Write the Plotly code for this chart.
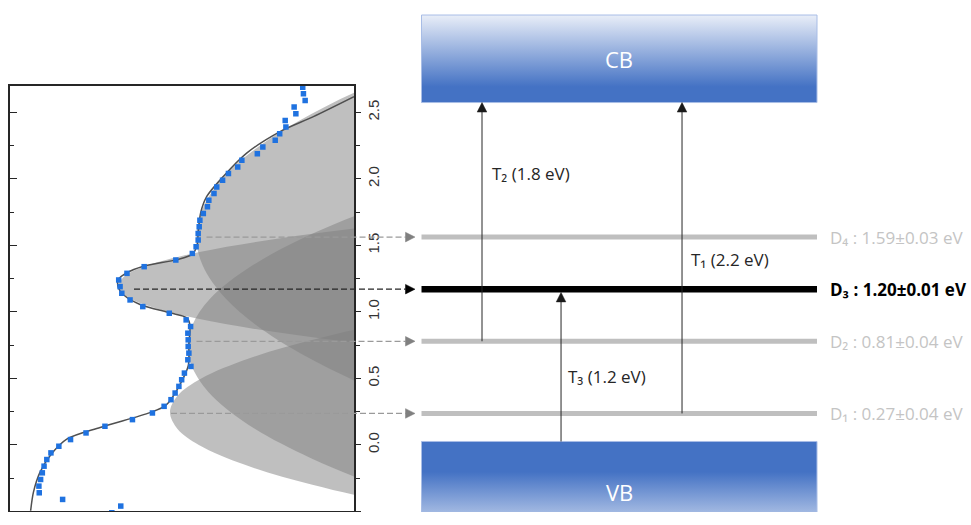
import plotly.graph_objects as go

# ---------------------------------------------------------------
# Measured spectrum (left panel): photon energy (eV) vs. signal (a.u.)
# ---------------------------------------------------------------
ENERGY = [2.69, 2.64, 2.59, 2.54, 2.49, 2.44, 2.39, 2.34, 2.29, 2.24,
          2.19, 2.14, 2.09, 2.04, 1.99, 1.94, 1.89, 1.84, 1.79, 1.74,
          1.69, 1.64, 1.59, 1.54, 1.49, 1.44, 1.39, 1.34, 1.29, 1.24,
          1.19, 1.14, 1.09, 1.04, 0.99, 0.94, 0.89, 0.84, 0.79, 0.74,
          0.69, 0.64, 0.59, 0.54, 0.49, 0.44, 0.39, 0.34, 0.29, 0.24,
          0.19, 0.14, 0.09, 0.04, -0.01, -0.06, -0.11, -0.16, -0.21, -0.26,
          -0.31, -0.36, -0.41, -0.46, -0.51]
SIGNAL = [0.851, 0.853, 0.858, 0.826, 0.831, 0.800, 0.802, 0.784, 0.771, 0.735,
          0.719, 0.674, 0.662, 0.635, 0.618, 0.601, 0.593, 0.578, 0.574, 0.562,
          0.552, 0.550, 0.547, 0.547, 0.541, 0.530, 0.482, 0.390, 0.340, 0.316,
          0.320, 0.325, 0.349, 0.386, 0.463, 0.512, 0.525, 0.517, 0.518, 0.518,
          0.520, 0.517, 0.526, 0.507, 0.499, 0.491, 0.480, 0.468, 0.448, 0.414,
          0.356, 0.276, 0.221, 0.176, 0.142, 0.119, 0.107, 0.099, 0.094, 0.089,
          0.084, 0.085, 0.153, 0.322, 0.296]

# Total fit curve
FIT_ENERGY = [2.618, 2.468, 2.356, 2.194, 2.018, 1.868, 1.743, 1.593, 1.490, 1.430,
              1.393, 1.343, 1.293, 1.243, 1.181, 1.131, 1.056, 0.993, 0.956, 0.905,
              0.755, 0.593, 0.368, 0.293, 0.243, 0.131, 0.043, -0.083, -0.207, -0.357,
              -0.495]
FIT_SIGNAL = [1.000, 0.882, 0.785, 0.688, 0.620, 0.572, 0.554, 0.547, 0.543, 0.528,
              0.485, 0.388, 0.339, 0.315, 0.315, 0.329, 0.378, 0.465, 0.514, 0.523,
              0.520, 0.518, 0.475, 0.451, 0.407, 0.262, 0.165, 0.116, 0.087, 0.068,
              0.060]

# Outlines of the four fitted defect components (energy, signal)
D1_E = [-0.70, -0.45, -0.30, -0.15, 0.00, 0.12, 0.245, 0.37, 0.50, 0.65, 0.80, 0.95, 1.20]
D1_X = [1.711, 1.139, 0.879, 0.683, 0.549, 0.487, 0.465, 0.487, 0.556, 0.694, 0.895, 1.158, 1.737]
D2_E = [-0.70, -0.35, -0.10, 0.15, 0.40, 0.60, 0.741, 0.90, 1.10, 1.35, 1.60, 1.85, 2.20]
D2_X = [1.568, 1.119, 0.875, 0.694, 0.576, 0.527, 0.517, 0.530, 0.582, 0.705, 0.890, 1.139, 1.594]
D3_E = [0.50, 0.65, 0.75, 0.85, 0.95, 1.05, 1.12, 1.198, 1.27, 1.35, 1.45, 1.55, 1.65, 1.75, 1.90]
D3_X = [2.127, 1.432, 1.062, 0.766, 0.544, 0.397, 0.338, 0.315, 0.334, 0.401, 0.551, 0.776, 1.075, 1.448, 2.148]
D4_E = [0.00, 0.35, 0.60, 0.85, 1.10, 1.35, 1.566, 1.80, 2.05, 2.30, 2.55, 2.80, 3.10]
D4_X = [1.505, 1.123, 0.908, 0.743, 0.627, 0.560, 0.542, 0.564, 0.634, 0.754, 0.922, 1.140, 1.466]

# ---------------------------------------------------------------
# Band diagram (right panel)
# ---------------------------------------------------------------
LEVEL_NAMES = ["D₁", "D₂", "D₃", "D₄"]
LEVEL_E = [0.27, 0.81, 1.20, 1.59]
LEVEL_ERR = [0.04, 0.04, 0.01, 0.03]
MAIN_LEVEL = 2  # D3 is highlighted

TRANS_NAMES = ["T₁", "T₂", "T₃"]
TRANS_EV = [2.2, 1.8, 1.2]

# band edges on the diagram energy scale
VB_TOP, VB_BOTTOM = 0.06, -0.70
CB_BOTTOM, CB_TOP = 2.597, 3.252

# ---------------------------------------------------------------
# Page geometry (pixels)
# ---------------------------------------------------------------
FIG_W, FIG_H = 971, 512
PLOT_LEFT, PLOT_RIGHT = 10, 354          # left panel frame
PLOT_TOP, PLOT_BOTTOM = 85.8, 511.4      # rows of 2.7 eV and -0.5 eV
E_RANGE = [-0.5, 2.7]
DIAG_ZERO, DIAG_SCALE = 449.5, 133.6     # diagram: row of 0 eV, px per eV

# horizontal layout of the diagram (fraction of figure width)
BAND_LEFT, BAND_RIGHT = 0.4341, 0.8414
BAND_CENTER = 0.6375
CONNECT_START = [0.1761, 0.2024, 0.1380, 0.2127]   # D1..D4
CONNECT_TIP = 0.4274
TRANS_X = [0.7024, 0.4964, 0.5778]                 # T1, T2, T3
TRANS_LABEL_POS = [(0.7096, 1.42), (0.5046, 2.067), (0.5829, 0.545)]
LEVEL_LABEL_X = 0.8527
HEAD_LEN, HEAD_HALF = 9.5, 4.8                     # arrowhead size, px

BLUE = "#4472C4"
PALE = "#E9EEF8"
LABEL_FONT = "Open Sans, Noto Sans, DejaVu Sans"

diag_range = [(DIAG_ZERO - FIG_H) / DIAG_SCALE, DIAG_ZERO / DIAG_SCALE]
dx_px = 1.0 / FIG_W           # diagram x units per pixel
de_px = 1.0 / DIAG_SCALE      # diagram energy units per pixel

fig = go.Figure()

# --- left panel: component lobes, fit and data ---
lobe_fill = "rgba(128,128,128,0.5)"
for ce, cx in [(D1_E, D1_X), (D2_E, D2_X), (D3_E, D3_X), (D4_E, D4_X)]:
    fig.add_trace(go.Scatter(
        x=cx + [2.4, 2.4], y=ce + [ce[-1], ce[0]],
        mode="lines", line=dict(width=0, shape="spline", smoothing=1.0),
        fill="toself", fillcolor=lobe_fill, hoverinfo="skip",
        xaxis="x", yaxis="y"))

fig.add_trace(go.Scatter(
    x=FIT_SIGNAL, y=FIT_ENERGY, mode="lines",
    line=dict(color="#505050", width=1.5, shape="spline", smoothing=0.8),
    xaxis="x", yaxis="y", hoverinfo="skip"))

fig.add_trace(go.Scatter(
    x=SIGNAL, y=ENERGY, mode="markers",
    marker=dict(symbol="square", size=5.5, color="#1F72E0", line=dict(width=0)),
    xaxis="x", yaxis="y"))

# invisible trace so the inward tick axis on the left is drawn
fig.add_trace(go.Scatter(x=[0.5], y=[1.0], mode="markers",
                         marker=dict(opacity=0), xaxis="x", yaxis="y3",
                         hoverinfo="skip"))

# --- right panel: bands ---
def band(e_low, e_high, scale):
    return go.Scatter(
        x=[BAND_LEFT, BAND_RIGHT, BAND_RIGHT, BAND_LEFT, BAND_LEFT],
        y=[e_low, e_low, e_high, e_high, e_low],
        mode="lines", line=dict(color="#A8BDE6", width=1),
        fill="toself",
        fillgradient=dict(type="vertical", start=e_low, stop=e_high, colorscale=scale),
        xaxis="x2", yaxis="y2", hoverinfo="skip")

fig.add_trace(band(CB_BOTTOM, CB_TOP, [[0, BLUE], [0.18, BLUE], [1, PALE]]))
fig.add_trace(band(VB_BOTTOM, VB_TOP, [[0, PALE], [0.70, BLUE], [1, BLUE]]))


def head_right(x_tip, e, color):
    """Filled arrowhead pointing right with its tip at (x_tip, e)."""
    return go.Scatter(
        x=[x_tip, x_tip - HEAD_LEN * dx_px, x_tip - HEAD_LEN * dx_px, x_tip],
        y=[e, e + HEAD_HALF * de_px, e - HEAD_HALF * de_px, e],
        mode="lines", line=dict(width=0.5, color=color), fill="toself",
        fillcolor=color, xaxis="x2", yaxis="y2", hoverinfo="skip")


def head_up(x, e_tip, color):
    """Filled arrowhead pointing up with its tip at (x, e_tip)."""
    return go.Scatter(
        x=[x, x - HEAD_HALF * dx_px, x + HEAD_HALF * dx_px, x],
        y=[e_tip, e_tip - HEAD_LEN * de_px, e_tip - HEAD_LEN * de_px, e_tip],
        mode="lines", line=dict(width=0.5, color=color), fill="toself",
        fillcolor=color, xaxis="x2", yaxis="y2", hoverinfo="skip")


# --- defect levels and dashed connectors ---
for i, e in enumerate(LEVEL_E):
    main = i == MAIN_LEVEL
    fig.add_trace(go.Scatter(
        x=[BAND_LEFT, BAND_RIGHT], y=[e, e], mode="lines",
        line=dict(color="#000000" if main else "#BFBFBF", width=6.5 if main else 5),
        xaxis="x2", yaxis="y2", hoverinfo="skip"))
    fig.add_trace(go.Scatter(
        x=[CONNECT_START[i], CONNECT_TIP - HEAD_LEN * dx_px], y=[e, e], mode="lines",
        line=dict(color="#262626" if main else "#9A9A9A", width=1.2, dash="6px,3px"),
        xaxis="x2", yaxis="y2", hoverinfo="skip"))
    fig.add_trace(head_right(CONNECT_TIP, e, "#000000" if main else "#808080"))

# --- optical transitions ---
trans_from = [LEVEL_E[0], LEVEL_E[1], VB_TOP]
trans_to = [CB_BOTTOM, CB_BOTTOM, LEVEL_E[2] - 3.2 * de_px]
for i in range(3):
    tip = trans_to[i]
    fig.add_trace(go.Scatter(
        x=[TRANS_X[i], TRANS_X[i]], y=[trans_from[i], tip - HEAD_LEN * de_px],
        mode="lines", line=dict(color="#262626", width=1),
        xaxis="x2", yaxis="y2", hoverinfo="skip"))
    fig.add_trace(head_up(TRANS_X[i], tip, "#1A1A1A"))

annotations = []
for i, e in enumerate(LEVEL_E):
    main = i == MAIN_LEVEL
    txt = f"{LEVEL_NAMES[i]} : {LEVEL_E[i]:.2f}±{LEVEL_ERR[i]:.2f} eV"
    if main:
        txt = f"<b>{txt}</b>"
    annotations.append(dict(
        x=LEVEL_LABEL_X, y=e, xref="x2", yref="y2", xanchor="left", yanchor="middle",
        text=txt, showarrow=False,
        font=dict(family=LABEL_FONT, size=17, color="#000000" if main else "#C4C4C4")))

for i in range(3):
    lx, ly = TRANS_LABEL_POS[i]
    annotations.append(dict(
        x=lx, y=ly, xref="x2", yref="y2", xanchor="left", yanchor="middle",
        text=f"{TRANS_NAMES[i]} ({TRANS_EV[i]:.1f} eV)", showarrow=False,
        font=dict(family=LABEL_FONT, size=17, color="#262626")))

annotations.append(dict(x=BAND_CENTER, y=(CB_BOTTOM + CB_TOP) / 2, xref="x2", yref="y2",
                        text="CB", showarrow=False,
                        font=dict(family=LABEL_FONT, size=22, color="white")))
annotations.append(dict(x=BAND_CENTER, y=-0.318, xref="x2", yref="y2",
                        text="VB", showarrow=False,
                        font=dict(family=LABEL_FONT, size=22, color="white")))

axis_col = "#262626"
y_domain = [(FIG_H - PLOT_BOTTOM) / FIG_H, (FIG_H - PLOT_TOP) / FIG_H]
fig.update_layout(
    width=FIG_W, height=FIG_H,
    margin=dict(l=0, r=0, t=0, b=0),
    paper_bgcolor="white", plot_bgcolor="rgba(0,0,0,0)",
    showlegend=False,
    xaxis=dict(domain=[PLOT_LEFT / FIG_W, PLOT_RIGHT / FIG_W], range=[0, 1], anchor="y",
               showline=True, mirror=True, linecolor=axis_col, linewidth=1.6,
               ticks="", showticklabels=False, showgrid=False, zeroline=False),
    yaxis=dict(domain=y_domain, range=E_RANGE, anchor="x", side="right",
               showline=True, linecolor=axis_col, linewidth=1.6,
               ticks="outside", ticklen=5, tickwidth=1.3, tickcolor=axis_col,
               tick0=0, dtick=0.5, tickformat=".1f", tickangle=-90,
               tickfont=dict(family="Liberation Sans, Arial", size=15, color="#333333"),
               minor=dict(dtick=0.25, ticks="outside", ticklen=4, tickwidth=1.3,
                          tickcolor=axis_col),
               showgrid=False, zeroline=False),
    yaxis3=dict(overlaying="y", side="left", anchor="x", range=E_RANGE,
                showline=True, linecolor=axis_col, linewidth=1.6,
                ticks="inside", ticklen=7, tickwidth=1.3, tickcolor=axis_col,
                tick0=0, dtick=0.5, showticklabels=False,
                minor=dict(dtick=0.25, ticks="inside", ticklen=4, tickwidth=1.3,
                           tickcolor=axis_col),
                showgrid=False, zeroline=False),
    xaxis2=dict(domain=[0, 1], range=[0, 1], anchor="y2", visible=False),
    yaxis2=dict(domain=[0, 1], range=diag_range, anchor="x2", visible=False),
    annotations=annotations,
)

fig.write_html("out.html")
